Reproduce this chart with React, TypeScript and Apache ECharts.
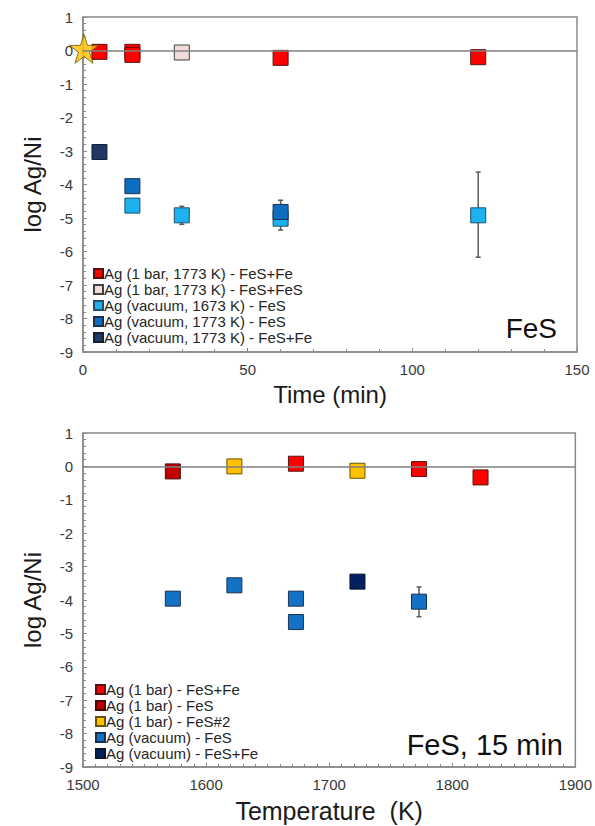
import React, { useEffect, useRef } from "react";
import * as echarts from "echarts";

// ---------- Top chart (FeS, time series) ----------
const TIME_TICKS = { min: 0, max: 150, interval: 50 };
const LOG_TICKS = { min: -9, max: 1, interval: 1 };

const starPoint = [[0.3, 0.05]];
const bar1773FeSFe = [[5, -0.04], [15, -0.04], [15, -0.13], [60, -0.22], [120, -0.2]];
const bar1773FeSFeS = [[30, -0.06]];
const vac1673FeS = [[15, -4.63], [30, -4.92], [60, -5.02], [120, -4.92]];
const vac1773FeS = [[15, -4.05], [60, -4.82]];
const vac1773FeSFe = [[5, -3.03]];
const timeErrors = [[30, -5.19, -4.65], [60, -5.36, -4.47], [120, -6.17, -3.63]];

const topNames = [
  "Ag (1 bar, 1773 K) - FeS+Fe",
  "Ag (1 bar, 1773 K) - FeS+FeS",
  "Ag (vacuum, 1673 K) - FeS",
  "Ag (vacuum, 1773 K) - FeS",
  "Ag (vacuum, 1773 K) - FeS+Fe",
];

// ---------- Bottom chart (FeS, 15 min, temperature) ----------
const TEMP_TICKS = { min: 1500, max: 1900, interval: 100 };
const bar15FeSFe = [[1673, 0.08], [1773, -0.08], [1823, -0.33]];
const bar15FeS = [[1573, -0.15]];
const bar15FeS2 = [[1623, 0.0], [1723, -0.13]];
const vac15FeS = [[1573, -3.96], [1623, -3.56], [1673, -3.96], [1673, -4.66], [1773, -4.05]];
const vac15FeSFe = [[1723, -3.45]];
const tempErrors = [[1773, -4.5, -3.61]];

const bottomNames = [
  "Ag (1 bar) - FeS+Fe",
  "Ag (1 bar) - FeS",
  "Ag (1 bar) - FeS#2",
  "Ag (vacuum) - FeS",
  "Ag (vacuum) - FeS+Fe",
];

const FONT = "Liberation Sans, Arial, sans-serif";
const AXIS_GRAY = "#8a8a8a";
const STAR_PATH =
  "path://M50,0 L61.8,35.1 L98.9,35.1 L68.9,57 L80.3,92.1 L50,70.6 L19.7,92.1 L31.1,57 L1.1,35.1 L38.2,35.1 Z";

function errorSeries(data: number[][], idx: number) {
  return {
    type: "custom",
    xAxisIndex: idx,
    yAxisIndex: idx,
    z: 1,
    silent: true,
    data,
    encode: { x: 0, y: [1, 2] },
    renderItem: (params: any, api: any) => {
      const x = api.value(0);
      const lo = api.coord([x, api.value(1)]);
      const hi = api.coord([x, api.value(2)]);
      const st = { stroke: "#5a5a5a", lineWidth: 1.5 };
      return {
        type: "group",
        children: [
          { type: "line", shape: { x1: lo[0], y1: lo[1], x2: hi[0], y2: hi[1] }, style: st },
          { type: "line", shape: { x1: lo[0] - 2.5, y1: lo[1], x2: lo[0] + 2.5, y2: lo[1] }, style: st },
          { type: "line", shape: { x1: hi[0] - 2.5, y1: hi[1], x2: hi[0] + 2.5, y2: hi[1] }, style: st },
        ],
      };
    },
  };
}

function sq(name: string, data: number[][], color: string, idx: number, border = "#3a3a3a") {
  return {
    type: "scatter",
    name,
    xAxisIndex: idx,
    yAxisIndex: idx,
    z: 3,
    symbol: "rect",
    symbolSize: 15,
    data,
    itemStyle: { color, borderColor: border, borderWidth: 1, opacity: 1 },
  };
}

function xAxis(idx: number, ticks: any, name: string, minorSplit: number, gap: number, nameSize: number) {
  return {
    type: "value",
    gridIndex: idx,
    ...ticks,
    name,
    nameLocation: "middle",
    nameGap: gap,
    nameTextStyle: { fontSize: nameSize, fontFamily: FONT, color: "#1a1a1a" },
    axisLine: { show: true, onZero: false, lineStyle: { color: AXIS_GRAY, width: 1.5 } },
    axisTick: { show: true, inside: true, length: 4, lineStyle: { color: AXIS_GRAY } },
    minorTick: { show: true, splitNumber: minorSplit, length: 3, lineStyle: { color: AXIS_GRAY } },
    splitLine: { show: false },
    minorSplitLine: { show: false },
    axisLabel: {
      fontSize: 15,
      fontFamily: FONT,
      color: "#383838",
      margin: 10,
      formatter: (v: number) => String(v),
    },
  };
}

function yAxis(idx: number) {
  return {
    type: "value",
    gridIndex: idx,
    ...LOG_TICKS,
    name: "log Ag/Ni",
    nameLocation: "middle",
    nameGap: 39,
    nameTextStyle: { fontSize: 24, fontFamily: FONT, color: "#1a1a1a" },
    axisLine: { show: true, onZero: false, lineStyle: { color: AXIS_GRAY, width: 1.5 } },
    axisTick: { show: true, inside: true, length: 4, lineStyle: { color: AXIS_GRAY } },
    minorTick: { show: true, splitNumber: 5, length: 3, lineStyle: { color: AXIS_GRAY } },
    splitLine: { show: false },
    minorSplitLine: { show: false },
    axisLabel: { fontSize: 15, fontFamily: FONT, color: "#383838", margin: 10 },
  };
}

const zeroLine = {
  silent: true,
  symbol: "none",
  label: { show: false },
  lineStyle: { color: "#808080", width: 1.5, type: "solid" },
  data: [{ yAxis: 0 }],
};

export default function App() {
  const ref = useRef<HTMLDivElement>(null);
  useEffect(() => {
    if (!ref.current) return;
    const chart = echarts.init(ref.current, null, { renderer: "svg" });
    const legendCommon = {
      orient: "vertical",
      icon: "rect",
      itemWidth: 9,
      itemHeight: 9,
      itemGap: 1,
      padding: 0,
      selectedMode: false,
      textStyle: { fontSize: 15, lineHeight: 15, fontFamily: FONT, color: "#262626", padding: [0, 0, 0, -4] },
    };
    chart.setOption({
      animation: false,
      backgroundColor: "#ffffff",
      grid: [
        { left: 83, top: 17, width: 494, height: 335, show: true, borderColor: AXIS_GRAY, borderWidth: 1.5, backgroundColor: "#fff" },
        { left: 83, top: 433, width: 494, height: 334, show: true, borderColor: AXIS_GRAY, borderWidth: 1.5, backgroundColor: "#fff" },
      ],
      xAxis: [
        xAxis(0, TIME_TICKS, "Time (min)", 5, 30, 24),
        xAxis(1, TEMP_TICKS, "Temperature  (K)", 10, 31, 25),
      ],
      yAxis: [yAxis(0), yAxis(1)],
      legend: [
        { ...legendCommon, left: 93, top: 266, data: topNames },
        { ...legendCommon, left: 95, top: 682, data: bottomNames },
      ],
      graphic: [
        { type: "text", right: 38, top: 314, style: { text: "FeS", fontSize: 28, fontFamily: FONT, fill: "#111" } },
        { type: "text", right: 32, top: 730, style: { text: "FeS, 15 min", fontSize: 29, fontFamily: FONT, fill: "#111" } },
      ],
      series: [
        errorSeries(timeErrors, 0),
        { ...sq(topNames[0], bar1773FeSFe, "#FF0000", 0, "#5a1010"), markLine: zeroLine },
        sq(topNames[1], bar1773FeSFeS, "#F2DCDB", 0, "#404040"),
        sq(topNames[2], vac1673FeS, "#1DB2EE", 0, "#1f4e6e"),
        sq(topNames[3], vac1773FeS, "#0E6FC0", 0, "#1a3050"),
        sq(topNames[4], vac1773FeSFe, "#1F3864", 0, "#10203a"),
        {
          type: "scatter",
          name: "star",
          xAxisIndex: 0,
          yAxisIndex: 0,
          z: 4,
          symbol: STAR_PATH,
          symbolSize: 29,
          data: starPoint,
          itemStyle: { color: "#FFC000", borderColor: "#6b5200", borderWidth: 1 },
        },
        errorSeries(tempErrors, 1),
        { ...sq(bottomNames[0], bar15FeSFe, "#FF0000", 1, "#5a1010"), markLine: zeroLine },
        sq(bottomNames[1], bar15FeS, "#C00000", 1, "#4a0a0a"),
        sq(bottomNames[2], bar15FeS2, "#FFC000", 1, "#6b5200"),
        sq(bottomNames[3], vac15FeS, "#1472C4", 1, "#1a3050"),
        sq(bottomNames[4], vac15FeSFe, "#002060", 1, "#0a1530"),
      ],
    });
    return () => chart.dispose();
  }, []);
  return (
    <div
      ref={ref}
      style={{ position: "fixed", left: 0, top: 0, width: 595, height: 826, background: "#fff" }}
    />
  );
}
